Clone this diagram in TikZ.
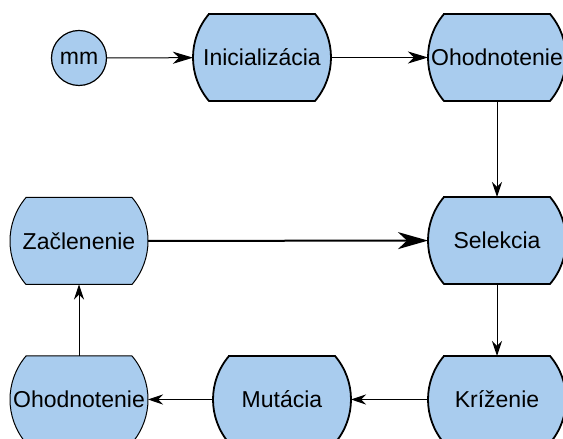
\documentclass[tikz,border=0pt]{standalone}
\usepackage{fontspec}
\setmainfont{Liberation Sans}
\usetikzlibrary{arrows.meta,backgrounds}
\definecolor{boxfill}{RGB}{169,204,238}
\tikzset{
  boxtext/.style={rectangle,minimum width=138pt,minimum height=87pt,inner sep=0pt,outer sep=0pt,
    font=\fontsize{23}{27}\selectfont},
  barrel/.style={fill=boxfill,draw=black},
  circnode/.style={circle,minimum size=55pt,inner sep=0pt,outer sep=0pt,fill=boxfill,draw=black,line width=1.2pt,
    font=\fontsize{23}{27}\selectfont},
  arrA/.style={line width=1pt,-{Stealth[length=20pt,width=12pt,inset=6pt]}},
  arrB/.style={line width=2pt,-{Stealth[length=30pt,width=17pt,inset=9pt]}},
  arrC/.style={line width=1pt,-{Stealth[length=15pt,width=10pt,inset=5pt]}},
}
\newcommand\barrelnode[5]{%
  \node[boxtext] (#1) at (#2,#3) {#4};
  \begin{pgfonlayer}{background}
  \filldraw[barrel,line width=#5] ([xshift=16pt]#1.north west) -- ([xshift=-16pt]#1.north east)
    arc[start angle=40.4,end angle=-40.4,radius=67.1pt] -- ([xshift=16pt]#1.south west)
    arc[start angle=220.4,end angle=139.6,radius=67.1pt] -- cycle;
  \end{pgfonlayer}}
\begin{document}
\begin{tikzpicture}[x=1pt,y=1pt]
\useasboundingbox (0,0) rectangle (563,439);
\node[circnode] (mm) at (79,381) {mm};
\barrelnode{ini}{262}{381.5}{Inicializácia}{1.8pt}
\barrelnode{oh1}{497}{381.5}{Ohodnotenie}{1.8pt}
\barrelnode{sel}{497}{198.5}{Selekcia}{1.8pt}
\barrelnode{zac}{79}{198}{Začlenenie}{1pt}
\barrelnode{kri}{497}{39.5}{Kríženie}{1.8pt}
\barrelnode{mut}{282}{39.5}{Mutácia}{1.8pt}
\barrelnode{oh2}{79}{39.5}{Ohodnotenie}{1pt}
\draw[arrA] (mm) -- (ini);
\draw[arrA] (ini) -- (oh1);
\draw[arrC] (oh1) -- (sel);
\draw[arrB] (zac) -- (sel);
\draw[arrC] (sel) -- (kri);
\draw[arrC] (kri) -- (mut);
\draw[arrC] (mut) -- (oh2);
\draw[arrC] (oh2) -- (zac);
\end{tikzpicture}
\end{document}
